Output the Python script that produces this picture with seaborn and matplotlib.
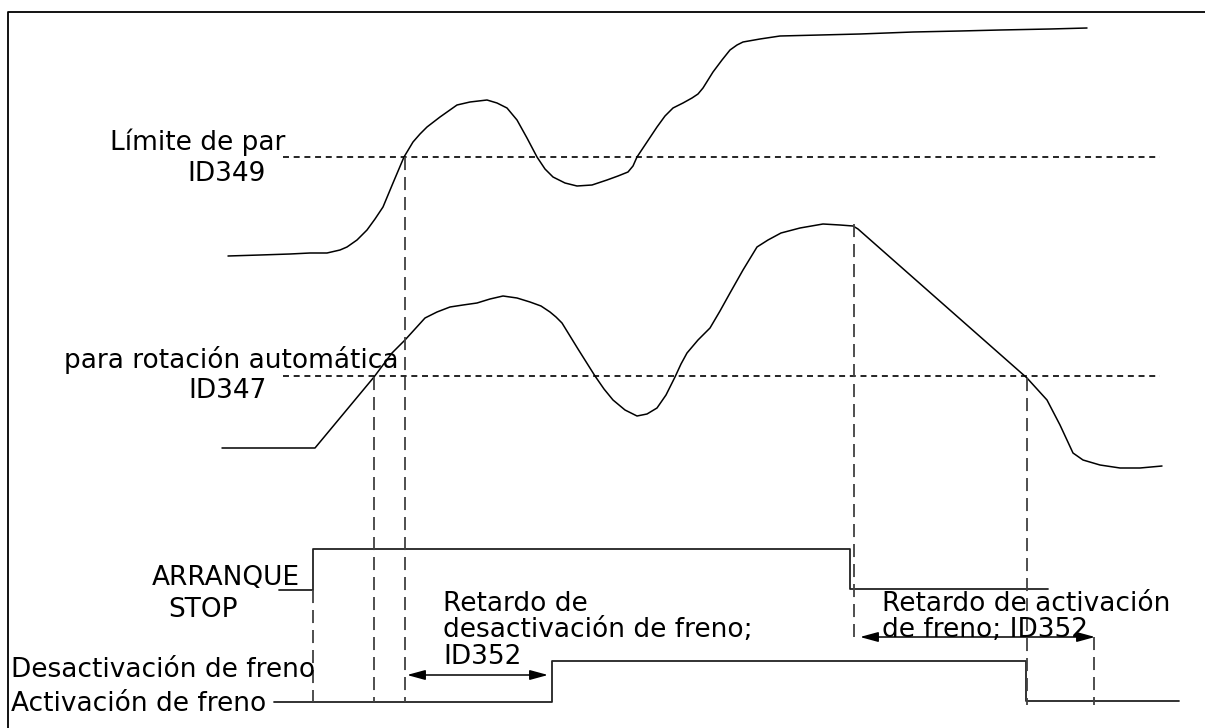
import numpy as np
import pandas as pd
import seaborn as sns
import matplotlib.pyplot as plt

# ---------- data (pixel units, y grows downward) ----------
torque_x = [228, 260, 290, 310, 327, 340, 347, 357, 367, 375, 383, 393, 404, 413, 420, 427,
            440, 457, 470, 487, 497, 507, 517, 527, 537, 545, 553, 565, 577, 592, 607, 618,
            628, 633, 637, 647, 657, 665, 673, 683, 692, 698, 703, 708, 713, 722, 730, 737,
            743, 760, 780, 820, 860, 913, 960, 1000, 1050, 1087]
torque_y = [256, 255, 254, 253, 253, 250, 247, 240, 230, 219, 207, 183, 157, 142, 134, 127,
            117, 105, 102, 100, 103, 108, 120, 138, 157, 169, 177, 183, 186, 185, 180, 176,
            172, 166, 157, 142, 127, 116, 108, 103, 98, 94, 88, 80, 72, 60, 50, 45,
            42, 39, 36, 35, 34, 32, 31, 30, 29, 28]

speed_x = [222, 260, 315, 374, 392, 405, 415, 425, 437, 450, 463, 477, 490, 503, 517, 530,
           541, 550, 556, 562, 578, 595, 604, 613, 625, 637, 647, 657, 666, 675, 681, 687,
           698, 710, 720, 730, 743, 757, 768, 781, 800, 823, 840, 853, 858, 1027, 1037, 1047,
           1060, 1073, 1083, 1100, 1120, 1140, 1162]
speed_y = [448, 448, 448, 377, 353, 340, 329, 318, 312, 307, 305, 303, 299, 296, 298, 302,
           306, 312, 317, 323, 349, 376, 389, 400, 410, 416, 414, 408, 395, 377, 364, 353,
           340, 328, 311, 293, 270, 247, 240, 233, 228, 224, 225, 226, 229, 378, 389, 400,
           425, 453, 460, 465, 468, 468, 466]

# step signals (steps-post)
start_x = [279, 313, 850, 1048]
start_y = [590, 549, 589, 589]
brake_x = [274, 552, 1026, 1179]
brake_y = [702, 661, 701, 701]

# threshold levels (torque limit ID349, speed limit ID347)
limit_y = [157, 376]
limit_x0, limit_x1 = 283, 1160

# vertical guides
guide_x = [313, 374, 405, 854, 1027, 1094]
guide_top = [590, 377, 157, 224, 378, 637]
guide_bot = [702, 702, 702, 637, 705, 705]

# delay arrows
arrow_x0 = [407, 860]
arrow_x1 = [548, 1095]
arrow_y = [675, 637]

labels = [
    ("Límite de par", 110, 150),
    ("ID349", 187, 181),
    ("para rotación automática", 64, 368),
    ("ID347", 188, 398),
    ("ARRANQUE", 152, 585),
    ("STOP", 168, 617),
    ("Retardo de", 443, 611),
    ("desactivación de freno;", 443, 637),
    ("ID352", 443, 664),
    ("Retardo de activación", 882, 611),
    ("de freno; ID352", 882, 637),
    ("Desactivación de freno", 11, 677),
    ("Activación de freno", 11, 711),
]

# ---------- figure ----------
sns.set_theme(style="white")
plt.rcParams["font.family"] = ["DejaVu Sans"]
plt.rcParams["lines.scale_dashes"] = False

fig = plt.figure(figsize=(12.05, 7.28), dpi=100)
ax = fig.add_axes([0, 0, 1, 1])
ax.set_xlim(0, 1205)
ax.set_ylim(728, 0)
ax.axis("off")

# frame (top + left only)
ax.plot([8, 8, 1205], [728, 12, 12], color="black", lw=1.3, solid_capstyle="butt")

torque = pd.DataFrame({"x": torque_x, "y": torque_y})
speed = pd.DataFrame({"x": speed_x, "y": speed_y})
sns.lineplot(data=torque, x="x", y="y", sort=False, ax=ax, color="black", lw=1.1)
sns.lineplot(data=speed, x="x", y="y", sort=False, ax=ax, color="black", lw=1.1)

sns.lineplot(x=start_x, y=start_y, sort=False, ax=ax, color="#222222", lw=1.3,
             drawstyle="steps-post")
sns.lineplot(x=brake_x, y=brake_y, sort=False, ax=ax, color="#222222", lw=1.3,
             drawstyle="steps-post")

ax.hlines(limit_y, limit_x0, limit_x1, colors="black", lw=1.2, linestyles=(0, (4.3, 3.4)))
ax.vlines(guide_x, guide_top, guide_bot, colors="#404040", lw=1.3, linestyles=(0, (9.4, 5.0)))

for x0, x1, y in zip(arrow_x0, arrow_x1, arrow_y):
    ax.annotate("", xy=(x1, y), xytext=(x0, y),
                arrowprops=dict(arrowstyle="<|-|>,head_length=1.1,head_width=0.3",
                                mutation_scale=10, color="black", lw=1.1,
                                shrinkA=0, shrinkB=0))

for txt, x, y in labels:
    ax.text(x, y, txt, fontsize=19, ha="left", va="baseline", color="black")

ax.set_xlabel("")
ax.set_ylabel("")
fig.savefig("out.png", dpi=100)
